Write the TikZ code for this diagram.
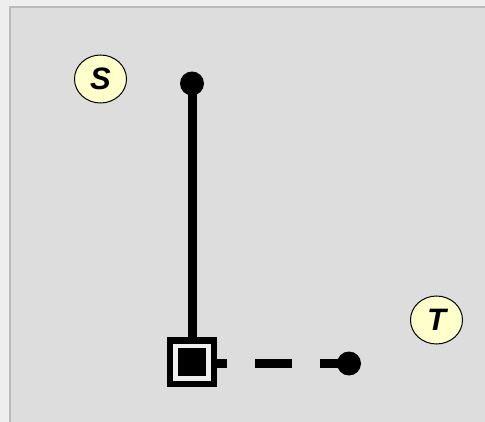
\documentclass[tikz,border=0pt]{standalone}
\usepackage{fontspec}
\setsansfont{Liberation Sans}
\usepackage{tikz}
\usetikzlibrary{shapes.geometric, backgrounds}
\definecolor{pagebg}{RGB}{238,238,238}
\definecolor{panelgray}{RGB}{221,221,221}
\definecolor{paneledge}{RGB}{187,187,187}
\definecolor{labelyellow}{RGB}{255,255,204}

\begin{document}
\begin{tikzpicture}[x=1pt, y=-1pt,
    terminal/.style={circle, fill=black, minimum size=24pt, inner sep=0pt},
    pinlabel/.style={ellipse, draw=black, line width=1pt, fill=labelyellow,
      minimum width=52pt, minimum height=48pt, inner sep=0pt,
      font=\fontsize{31}{31}\selectfont\sffamily\bfseries\itshape},
    wire/.style={line width=9pt}]
    \useasboundingbox (0,0) rectangle (485,422);

    % === Terminals and junction ===
    \node[terminal] (sdot) at (192,83.5) {};
    \node[terminal] (tdot) at (349,363.5) {};
    \node[draw=black, line width=6pt, fill=pagebg, minimum width=44pt,
      minimum height=43pt, inner sep=0pt] (junction) at (192,362) {};
    \node[fill=black, minimum size=28pt, inner sep=0pt] (core) at (junction) {};

    \begin{pgfonlayer}{background}
      % Background panel
      \fill[pagebg] (0,0) rectangle (485,422);
      \fill[panelgray] (10,7) rectangle (485,422);
      \draw[paneledge, line width=2pt] (10,422) -- (10,7) -- (485,7);
      % Wires (solid from S, dashed to T)
      \draw[wire] (sdot.center) -- (junction.north);
      \draw[wire, dash pattern=on 35pt off 28pt on 37pt off 28pt]
        (junction.center |- tdot) -- (tdot.center);
    \end{pgfonlayer}

    % === Labels ===
    \node[pinlabel] (slabel) at (100.5,79) {S};
    \node[pinlabel] (tlabel) at (436.5,320) {T};
\end{tikzpicture}
\end{document}
